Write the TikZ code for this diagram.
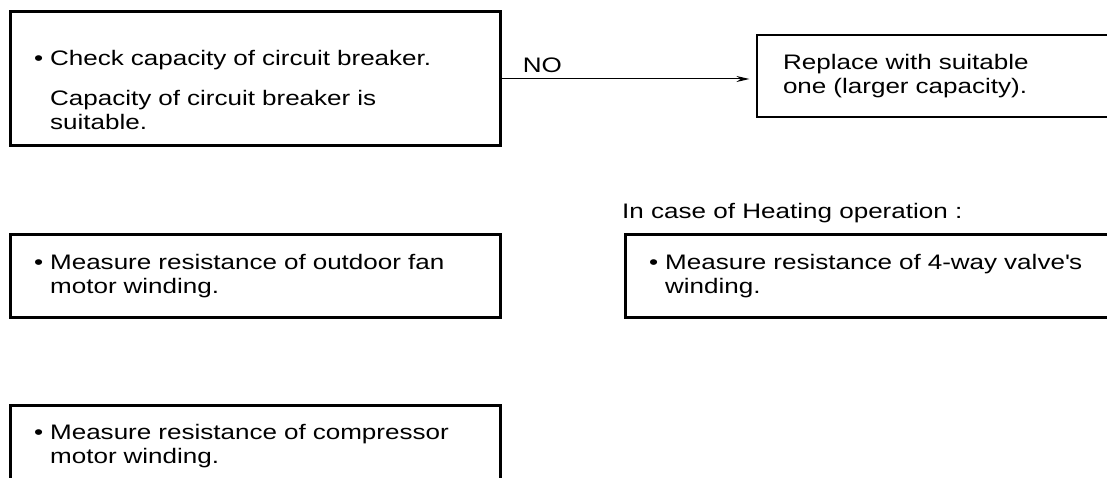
\documentclass[tikz,border=0pt]{standalone}
\usepackage{fontspec}
\setmainfont{Liberation Sans}[FakeStretch=1.24]
\usetikzlibrary{arrows.meta}
\newcommand{\hang}{\hphantom{\textbullet\ }}

\begin{document}
\begin{tikzpicture}[x=1pt, y=1pt,
  every node/.style={font=\fontsize{21}{24}\selectfont},
  thickbox/.style={draw, line width=3pt, inner xsep=24pt, text width=442pt, align=left, minimum height=82pt},
  thinbox/.style={draw, line width=1.2pt, inner xsep=26pt, text width=303pt, align=left, minimum height=82pt}]
\useasboundingbox (0,0) rectangle (1107,477);
\clip (0,0) rectangle (1107,477);
% top row
\node[thickbox, minimum height=134pt] (breaker) at (255,398) {\rule{0pt}{37pt}\textbullet\ Check capacity of circuit breaker.\\[16pt]\hang Capacity of circuit breaker is\\\hang suitable.};
\node[thinbox] (replace) at (934.5,401) {Replace with suitable\\one (larger capacity).};
\draw[line width=1pt, -{Stealth[length=13pt,width=6pt]}, shorten >=7pt] (breaker.east) -- node[above, pos=0.16, yshift=2pt] (no) {NO} (breaker.east -| replace.west);
% middle row
\node[thickbox] (fan) at (255,201) {\textbullet\ Measure resistance of outdoor fan\\\hang motor winding.};
\node[thickbox] (valve) at (870,201) {\textbullet\ Measure resistance of 4-way valve\textquotesingle s\\\hang winding.};
\node[anchor=south west, inner sep=0pt] (heating) at ([xshift=-1.5pt, yshift=10pt]valve.north west) {In case of Heating operation :};
% bottom row
\node[thickbox] (compressor) at (255,31) {\textbullet\ Measure resistance of compressor\\\hang motor winding.};
\end{tikzpicture}
\end{document}
